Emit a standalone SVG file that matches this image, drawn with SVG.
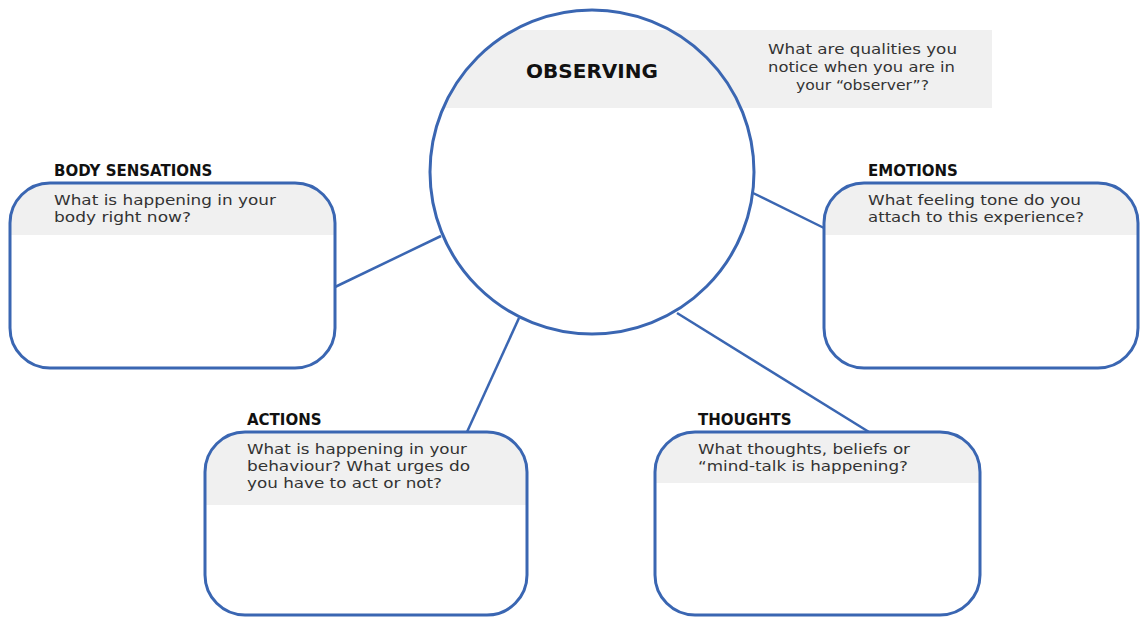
<svg xmlns="http://www.w3.org/2000/svg" width="1140" height="618" viewBox="0 0 1140 618">
<defs>
<clipPath id="cc"><circle cx="592" cy="172" r="162"/></clipPath>
<clipPath id="bodyClip"><rect x="10" y="183" width="325" height="185" rx="40"/></clipPath>
<clipPath id="emoClip"><rect x="824" y="183" width="314" height="185" rx="40"/></clipPath>
<clipPath id="actClip"><rect x="205" y="432" width="322" height="183" rx="40"/></clipPath>
<clipPath id="thoClip"><rect x="655" y="432" width="325" height="183" rx="40"/></clipPath>
</defs>
<style>
.box{fill:none;stroke:#3a66b2;stroke-width:3}
.hdr{fill:#f0f0f0}
.ln{stroke:#3a66b2;stroke-width:2.5;fill:none}
.t{font-family:"DejaVu Sans","Open Sans",sans-serif;font-size:14.5px;fill:#333}
.h{font-family:"DejaVu Sans","Open Sans",sans-serif;font-size:15px;font-weight:bold;fill:#111}
</style>
<rect width="1140" height="618" fill="#fff"/>
<g id="connectors">
<line class="ln" x1="441" y1="236" x2="335" y2="287"/>
<line class="ln" x1="753" y1="193" x2="824" y2="228"/>
<line class="ln" x1="519" y1="318" x2="467" y2="432"/>
<line class="ln" x1="677" y1="313" x2="869" y2="432"/>
</g>
<g id="observing">
<circle cx="592" cy="172" r="162" fill="#fff"/>
<rect x="592" y="30" width="400" height="78" class="hdr"/>
<rect x="420" y="30" width="172" height="78" class="hdr" clip-path="url(#cc)"/>
<circle cx="592" cy="172" r="162" class="box"/>
<text x="592" y="78" text-anchor="middle" font-family="DejaVu Sans, Open Sans, sans-serif" font-size="20" font-weight="bold" fill="#111">OBSERVING</text>
<text class="t"><tspan x="768" y="54" textLength="189" lengthAdjust="spacingAndGlyphs">What are qualities you</tspan><tspan x="768" y="72" textLength="187" lengthAdjust="spacingAndGlyphs">notice when you are in</tspan><tspan x="796" y="90" textLength="133" lengthAdjust="spacingAndGlyphs">your “observer”?</tspan></text>
</g>
<g id="body">
<rect x="10" y="183" width="325" height="52" class="hdr" clip-path="url(#bodyClip)"/>
<rect x="10" y="183" width="325" height="185" rx="40" class="box"/>
<text x="54" y="176" class="h">BODY SENSATIONS</text>
<text class="t"><tspan x="54" y="205" textLength="222" lengthAdjust="spacingAndGlyphs">What is happening in your</tspan><tspan x="54" y="222" textLength="137" lengthAdjust="spacingAndGlyphs">body right now?</tspan></text>
</g>
<g id="emotions">
<rect x="824" y="183" width="314" height="52" class="hdr" clip-path="url(#emoClip)"/>
<rect x="824" y="183" width="314" height="185" rx="40" class="box"/>
<text x="868" y="176" class="h">EMOTIONS</text>
<text class="t"><tspan x="868" y="205" textLength="213" lengthAdjust="spacingAndGlyphs">What feeling tone do you</tspan><tspan x="868" y="222" textLength="216" lengthAdjust="spacingAndGlyphs">attach to this experience?</tspan></text>
</g>
<g id="actions">
<rect x="205" y="432" width="322" height="73" class="hdr" clip-path="url(#actClip)"/>
<rect x="205" y="432" width="322" height="183" rx="40" class="box"/>
<text x="247" y="425" class="h">ACTIONS</text>
<text class="t"><tspan x="247" y="454" textLength="220" lengthAdjust="spacingAndGlyphs">What is happening in your</tspan><tspan x="247" y="471" textLength="223" lengthAdjust="spacingAndGlyphs">behaviour? What urges do</tspan><tspan x="247" y="488" textLength="195" lengthAdjust="spacingAndGlyphs">you have to act or not?</tspan></text>
</g>
<g id="thoughts">
<rect x="655" y="432" width="325" height="51" class="hdr" clip-path="url(#thoClip)"/>
<rect x="655" y="432" width="325" height="183" rx="40" class="box"/>
<text x="698" y="425" class="h">THOUGHTS</text>
<text class="t"><tspan x="698" y="454" textLength="212" lengthAdjust="spacingAndGlyphs">What thoughts, beliefs or</tspan><tspan x="698" y="471" textLength="210" lengthAdjust="spacingAndGlyphs">“mind-talk is happening?</tspan></text>
</g>
</svg>
